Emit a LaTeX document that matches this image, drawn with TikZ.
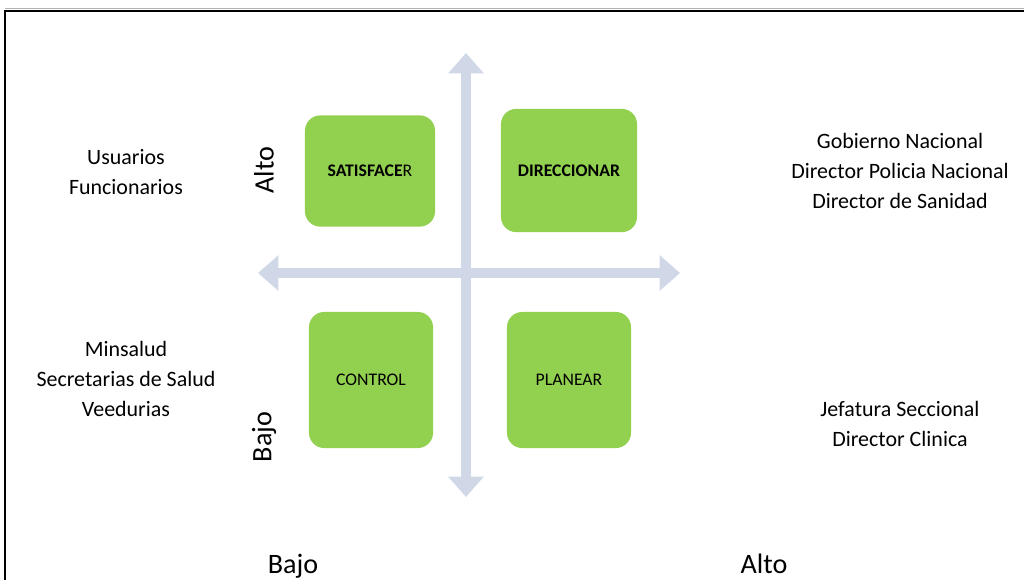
\documentclass[tikz,border=0pt]{standalone}
\usepackage{fontspec}
\setmainfont{Carlito}
\usetikzlibrary{arrows.meta, positioning}
\definecolor{boxgreen}{HTML}{92D050}
\definecolor{axisblue}{HTML}{D0D8E8}
\tikzset{
	quadbox/.style={
			rectangle,
			rounded corners=0.38cm,
			fill=boxgreen,
			draw=none,
			inner sep=0pt,
			font=\fontsize{12.6}{14}\selectfont
		},
	sidelabel/.style={
			align=center,
			inner sep=0pt,
			font=\fontsize{15.6}{21.3}\selectfont
		},
	levellabel/.style={
			inner sep=0pt,
			font=\fontsize{20}{24}\selectfont
		},
	axisline/.style={
			draw=axisblue,
			line width=7pt,
			-{Triangle[width=24.5pt,length=14.5pt]}
		}
}

\begin{document}
\begin{tikzpicture}[x=0.025cm, y=-0.025cm]
\useasboundingbox (0,0) rectangle (1024,580);

% frame
\draw[gray!60, line width=0.6pt] (5,8.6) -- (1024,8.6);
\draw[black, line width=1.5pt] (5,580) -- (5,10.7) -- (1024,10.7);

% axes
\coordinate (cTop) at (466,53);
\coordinate (cBottom) at (466,497);
\coordinate (cLeft) at (258,273);
\coordinate (cRight) at (680,273);
\coordinate (cCenter) at (466,273);
\draw[axisline] (cCenter) -- (cTop);
\draw[axisline] (cCenter) -- (cBottom);
\draw[axisline] (cCenter) -- (cLeft);
\draw[axisline] (cCenter) -- (cRight);

% quadrants
\node[quadbox, minimum width=3.25cm, minimum height=2.78cm] (qSatisfacer) at (370,171) {\textbf{SATISFACE}R};
\node[quadbox, minimum width=3.4cm, minimum height=3.08cm] (qDireccionar) at (569,170.5) {\textbf{DIRECCIONAR}};
\node[quadbox, minimum width=3.1cm, minimum height=3.4cm] (qControl) at (371,380) {CONTROL};
\node[quadbox, minimum width=3.1cm, minimum height=3.4cm] (qPlanear) at (569,380) {PLANEAR};

% stakeholders
\node[sidelabel] (sUsuarios) at (126,172) {Usuarios\\Funcionarios};
\node[sidelabel] (sMinsalud) at (126,379) {Minsalud\\Secretarias de Salud\\Veedurias};
\node[sidelabel] (sGobierno) at (900,171) {Gobierno Nacional\\Director Policia Nacional\\Director de Sanidad};
\node[sidelabel] (sJefatura) at (900,423.5) {Jefatura Seccional\\Director Clinica};

% levels
\node[levellabel, rotate=90] (lAltoY) at (264,170) {Alto};
\node[levellabel, rotate=90] (lBajoY) at (264,437) {Bajo};
\node[levellabel, anchor=base] (lBajoX) at (293,573) {Bajo};
\node[levellabel, anchor=base] (lAltoX) at (764,573) {Alto};

\end{tikzpicture}
\end{document}
